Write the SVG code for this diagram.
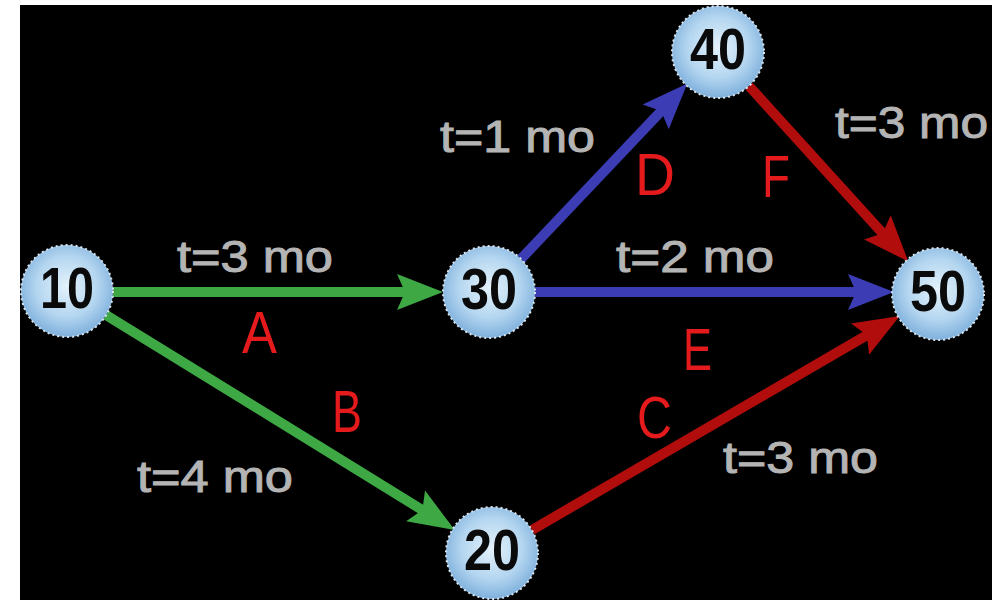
<svg xmlns="http://www.w3.org/2000/svg" width="1007" height="600" viewBox="0 0 1007 600">
<defs>
<radialGradient id="nodeFill" cx="50%" cy="45%" r="55%">
<stop offset="0" stop-color="#e4f2fb"/>
<stop offset="0.6" stop-color="#b4d6f0"/>
<stop offset="1" stop-color="#7fb0dc"/>
</radialGradient>
<marker id="hGreen" markerUnits="userSpaceOnUse" markerWidth="48" markerHeight="40" refX="14" refY="19" orient="auto" overflow="visible">
<path d="M0,1 L46,19 L0,37 L8,19 z" fill="#3ea845"/>
</marker>
<marker id="hBlue" markerUnits="userSpaceOnUse" markerWidth="48" markerHeight="40" refX="14" refY="19" orient="auto" overflow="visible">
<path d="M0,1 L46,19 L0,37 L8,19 z" fill="#3c3cb4"/>
</marker>
<marker id="hRed" markerUnits="userSpaceOnUse" markerWidth="48" markerHeight="40" refX="14" refY="19" orient="auto" overflow="visible">
<path d="M0,1 L46,19 L0,37 L8,19 z" fill="#b20d0d"/>
</marker>
</defs>
<style>
.node circle{fill:url(#nodeFill);stroke:#d8e4ee;stroke-width:2;stroke-dasharray:2 3}
.node text{font-family:"Liberation Sans",Arial,sans-serif;font-weight:bold;font-size:58px;fill:#0a0a0a;text-anchor:middle}
.edge{fill:none;stroke-width:10;stroke-linecap:butt}
.g{stroke:#3ea845;marker-end:url(#hGreen)}
.b{stroke:#3c3cb4;marker-end:url(#hBlue)}
.r{stroke:#b20d0d;marker-end:url(#hRed)}
.t{font-family:"Liberation Sans",Arial,sans-serif;font-size:45px;fill:#b4b4b4;stroke:#b4b4b4;stroke-width:1}
.l{font-family:"Liberation Sans",Arial,sans-serif;font-size:60px;fill:#e41a1c}
</style>
<rect x="0" y="0" width="1007" height="600" fill="#ffffff"/>
<rect x="20" y="5" width="972" height="595" fill="#000000"/>
<g id="connectors">
<line class="edge g" x1="113" y1="292" x2="411" y2="292"/>
<line class="edge g" x1="106" y1="315" x2="427.5" y2="513.2"/>
<line class="edge r" x1="532" y1="530" x2="872.1" y2="332.1"/>
<line class="edge b" x1="521" y1="259" x2="665.3" y2="106.7"/>
<line class="edge b" x1="535" y1="292" x2="862" y2="292"/>
<line class="edge r" x1="749" y1="86" x2="886.8" y2="237.8"/>
</g>
<g id="labels">
<text class="t" x="177" y="272" textLength="156" lengthAdjust="spacingAndGlyphs">t=3 mo</text>
<text class="t" x="137" y="492" textLength="156" lengthAdjust="spacingAndGlyphs">t=4 mo</text>
<text class="t" x="723" y="473" textLength="155" lengthAdjust="spacingAndGlyphs">t=3 mo</text>
<text class="t" x="440" y="152" textLength="155" lengthAdjust="spacingAndGlyphs">t=1 mo</text>
<text class="t" x="616" y="272" textLength="158" lengthAdjust="spacingAndGlyphs">t=2 mo</text>
<text class="t" x="835" y="138" textLength="153" lengthAdjust="spacingAndGlyphs">t=3 mo</text>
<text class="l" x="242" y="353" textLength="35" lengthAdjust="spacingAndGlyphs">A</text>
<text class="l" x="332" y="432" textLength="30" lengthAdjust="spacingAndGlyphs">B</text>
<text class="l" x="637" y="438" textLength="35" lengthAdjust="spacingAndGlyphs">C</text>
<text class="l" x="635" y="195" textLength="40" lengthAdjust="spacingAndGlyphs">D</text>
<text class="l" x="683" y="370" textLength="29" lengthAdjust="spacingAndGlyphs">E</text>
<text class="l" x="762" y="197" textLength="28" lengthAdjust="spacingAndGlyphs">F</text>
</g>
<g id="node10" class="node"><circle cx="67" cy="291" r="46"/><text x="67" y="308" textLength="54" lengthAdjust="spacingAndGlyphs">10</text></g>
<g id="node30" class="node"><circle cx="489" cy="292" r="46"/><text x="489" y="309" textLength="56" lengthAdjust="spacingAndGlyphs">30</text></g>
<g id="node40" class="node"><circle cx="718" cy="52" r="46"/><text x="718" y="69" textLength="56" lengthAdjust="spacingAndGlyphs">40</text></g>
<g id="node50" class="node"><circle cx="938" cy="294" r="46"/><text x="938" y="311" textLength="56" lengthAdjust="spacingAndGlyphs">50</text></g>
<g id="node20" class="node"><circle cx="492" cy="553" r="46"/><text x="492" y="570" textLength="56" lengthAdjust="spacingAndGlyphs">20</text></g>
</svg>
